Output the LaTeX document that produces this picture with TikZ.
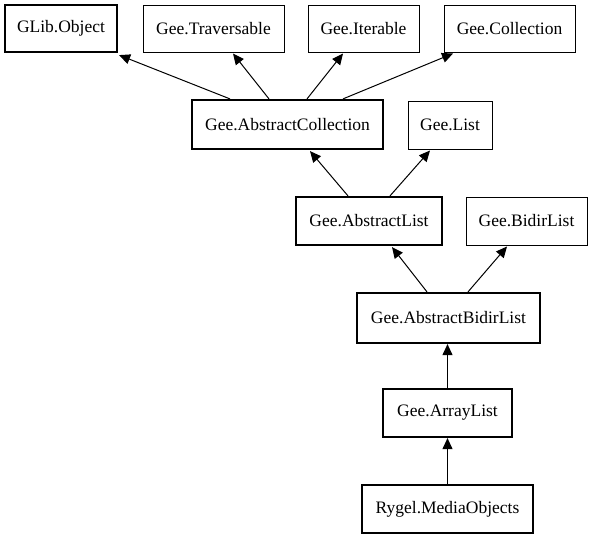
\documentclass[tikz,border=0pt]{standalone}
\usepackage{fontspec}
\setmainfont{Liberation Serif}
\usetikzlibrary{arrows.meta,calc}
\tikzset{
  cls/.style={draw=black, line width=1pt, inner sep=0pt, minimum height=47pt,
    font=\fontsize{17.5}{20}\selectfont, text=black},
  clsb/.style={cls, line width=2.2pt},
  inh/.style={draw=black, line width=1pt, -{Triangle[length=11pt,width=10pt]}}
}
\begin{document}
\begin{tikzpicture}[x=1pt,y=-1pt]
\useasboundingbox[fill=white] (0,0) rectangle (592,539);
\node[clsb, minimum width=112pt] (glib) at (61,28.5) {GLib.Object};
\node[cls, minimum width=141pt] (trav) at (213.5,28.5) {Gee.Traversable};
\node[cls, minimum width=111pt] (iter) at (363.5,28.5) {Gee.Iterable};
\node[cls, minimum width=131pt] (coll) at (509.5,28.5) {Gee.Collection};
\node[clsb, minimum width=191pt, minimum height=49pt] (ac) at (287.5,124.5) {Gee.AbstractCollection};
\node[cls, minimum width=84pt, minimum height=48pt] (list) at (450,125) {Gee.List};
\node[clsb, minimum width=146pt, minimum height=48pt] (al) at (369,221) {Gee.AbstractList};
\node[cls, minimum width=121pt, minimum height=48pt] (bidir) at (526.5,221) {Gee.BidirList};
\node[clsb, minimum width=183pt, minimum height=50pt] (abl) at (448.5,318) {Gee.AbstractBidirList};
\node[clsb, minimum width=129pt, minimum height=48pt] (arr) at (447.5,413) {Gee.ArrayList};
\node[clsb, minimum width=171pt, minimum height=48pt] (ryg) at (447.5,509) {Rygel.MediaObjects};

\draw[inh] ($(ac.north)+(-57.5,0)$) -- ($(glib.south east)+(1,2)$);
\draw[inh] ($(ac.north)+(-18.5,0)$) -- ($(trav.south)+(19.5,1)$);
\draw[inh] ($(ac.north)+(19.5,0)$) -- ($(iter.south)+(-20.5,1)$);
\draw[inh] ($(ac.north)+(55.5,0)$) -- ($(coll.south)+(-56.5,1)$);
\draw[inh] ($(al.north)+(-21,0)$) -- ($(ac.south)+(22.5,1)$);
\draw[inh] ($(al.north)+(21,0)$) -- ($(list.south)+(-20,1)$);
\draw[inh] ($(abl.north)+(-21.5,0)$) -- ($(al.south)+(23,1)$);
\draw[inh] ($(abl.north)+(19.5,0)$) -- ($(bidir.south)+(-19.5,1)$);
\draw[inh] (arr.north) -- (arr.north |- abl.south);
\draw[inh] (ryg.north) -- (arr.south);
\end{tikzpicture}
\end{document}
